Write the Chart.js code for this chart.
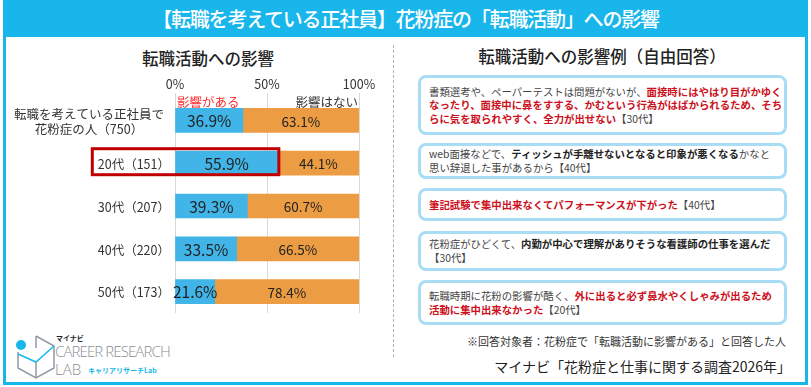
<!DOCTYPE html>
<html lang="ja">
<head>
<meta charset="utf-8">
<script src="https://cdn.jsdelivr.net/npm/chart.js@4/dist/chart.umd.min.js"></script>
<style>
  html,body{margin:0;padding:0;background:#fff;}
  body{width:811px;height:387px;position:relative;overflow:hidden;font-family:"Noto Sans CJK JP","Noto Sans",sans-serif;color:#333;}
  .frame{position:absolute;left:3px;top:0;width:805px;height:385px;box-sizing:border-box;border:3px solid #19b6ec;}
  .titlebar{position:absolute;left:3px;top:0;width:805px;height:37px;background:#19b6ec;color:#fff;font-size:20px;font-weight:500;text-align:center;line-height:37px;letter-spacing:-1.2px;}
  .sub{position:absolute;font-size:16.5px;font-weight:500;color:#222;text-align:center;white-space:nowrap;}
  .sep{position:absolute;left:393px;top:45px;height:312px;border-left:1px dashed #b0b0b0;}
  .box{position:absolute;left:418px;width:369px;box-sizing:border-box;border:3px solid #a9ddf6;border-radius:8px;background:#fff;display:flex;align-items:center;padding:0 0 0 8px;font-size:10.4px;line-height:13.6px;color:#444;white-space:nowrap;}
  .r{color:#cc1020;font-weight:700;}
  .b{color:#222;font-weight:700;}
  .note1{position:absolute;right:25px;top:333px;font-size:11px;color:#333;white-space:nowrap;}
  .note2{position:absolute;right:20px;top:356px;font-size:14px;color:#222;white-space:nowrap;}
  #wrap{position:absolute;left:0;top:40px;width:393px;height:280px;}
  .logo{position:absolute;left:14px;top:332px;width:170px;height:50px;}
</style>
</head>
<body>
<div class="frame"></div>
<div class="titlebar">【転職を考えている正社員】花粉症の「転職活動」への影響</div>
<div class="sub" style="left:0;width:416px;top:46px;">転職活動への影響</div>
<div class="sub" style="left:400px;width:404px;top:44px;">転職活動への影響例（自由回答）</div>
<div class="sep"></div>
<div id="wrap"><canvas id="c"></canvas></div>

<div class="box" style="top:75px;height:60px;"><div>書類選考や、ペーパーテストは問題がないが、<span class="r">面接時にはやはり目がかゆく</span><br><span class="r">なったり、面接中に鼻をすする、かむという行為がはばかられるため、そち</span><br><span class="r">らに気を取られやすく、全力が出せない</span>【30代】</div></div>
<div class="box" style="top:143px;height:36px;"><div>web面接などで、<span class="b">ティッシュが手離せないとなると印象が悪くなる</span>かなと<br>思い辞退した事があるから【40代】</div></div>
<div class="box" style="top:188px;height:33px;"><div><span class="r">筆記試験で集中出来なくてパフォーマンスが下がった</span>【40代】</div></div>
<div class="box" style="top:231px;height:40px;"><div>花粉症がひどくて、<span class="b">内勤が中心で理解がありそうな看護師の仕事を選んだ</span><br>【30代】</div></div>
<div class="box" style="top:280px;height:45px;"><div>転職時期に花粉の影響が酷く、<span class="r">外に出ると必ず鼻水やくしゃみが出るため</span><br><span class="r">活動に集中出来なかった</span>【20代】</div></div>

<div class="note1">※回答対象者：花粉症で「転職活動に影響がある」と回答した人</div>
<div class="note2">マイナビ「花粉症と仕事に関する調査2026年」</div>

<div class="logo">
  <svg width="44" height="50" style="position:absolute;left:0;top:0" viewBox="0 0 44 50">
    <polyline points="22,4 40,14 40,36 22,46 4,36 4,20" fill="none" stroke="#8e9aa6" stroke-width="1.5"/>
    <polyline points="4,22 22,30 40,14" fill="none" stroke="#19b6ec" stroke-width="1.5"/>
    <line x1="22" y1="30" x2="22" y2="46" stroke="#8e9aa6" stroke-width="1.5"/>
    <line x1="22" y1="4" x2="22" y2="16" stroke="#8e9aa6" stroke-width="1.5"/>
    <circle cx="7" cy="13" r="5" fill="#19b6ec"/>
  </svg>
  <div style="position:absolute;left:42px;top:1px;font-size:7px;font-weight:700;color:#222;">マイナビ</div>
  <div style="position:absolute;left:41px;top:9px;font-size:15px;color:#8a8f94;letter-spacing:-0.9px;font-family:'Open Sans','Noto Sans',sans-serif;font-weight:300;">CAREER RESEARCH</div>
  <div style="position:absolute;left:41px;top:27px;font-size:15px;color:#8a8f94;font-family:'Open Sans','Noto Sans',sans-serif;font-weight:300;">LAB</div>
  <div style="position:absolute;left:74px;top:33px;font-size:7px;font-weight:700;color:#19b6ec;">キャリアリサーチLab</div>
</div>

<script>
const categories = [["転職を考えている正社員で","花粉症の人（750）"],"20代（151）","30代（207）","40代（220）","50代（173）"];
const seriesNames = ["影響がある","影響はない"];
const affected = [36.9, 55.9, 39.3, 33.5, 21.6];
const notAffected = [63.1, 44.1, 60.7, 66.5, 78.4];
const xTicks = [0, 50, 100];
const highlightIndex = 1;

const FONT = '"Noto Sans CJK JP","Noto Sans",sans-serif';

const customPlugin = {
  id: 'custom',
  afterDatasetsDraw(chart) {
    const ctx = chart.ctx;
    const xs = chart.scales.x, ys = chart.scales.y;
    ctx.save();
    // value labels
    chart.data.datasets.forEach((ds, di) => {
      const meta = chart.getDatasetMeta(di);
      ctx.font = (di === 0 ? '15.5px ' : '13.5px ') + FONT;
      ctx.fillStyle = '#222';
      ctx.textAlign = 'center';
      ctx.textBaseline = 'middle';
      meta.data.forEach((bar, i) => {
        const cx = (bar.x + bar.base) / 2;
        ctx.fillText(ds.data[i].toFixed(1) + '%', cx, bar.y + 1);
      });
    });
    // series names
    const first = chart.getDatasetMeta(0).data[0];
    const ly = first.y - first.height / 2 - 6;
    ctx.font = '12.5px ' + FONT;
    ctx.textBaseline = 'middle';
    ctx.fillStyle = '#ff2a2a';
    ctx.textAlign = 'left';
    ctx.fillText(seriesNames[0], xs.getPixelForValue(0) + 2, ly);
    ctx.fillStyle = '#333';
    ctx.textAlign = 'right';
    ctx.fillText(seriesNames[1], xs.getPixelForValue(100) - 1, ly);
    // category labels
    ctx.font = '12.5px ' + FONT;
    ctx.fillStyle = '#333';
    ctx.textAlign = 'center';
    const right = 170;
    categories.forEach((lab, i) => {
      const lines = Array.isArray(lab) ? lab : [lab];
      const cy = ys.getPixelForValue(i);
      const w = Math.max(...lines.map(l => ctx.measureText(l).width));
      const r = lines.length > 1 ? right - 6 : right;
      lines.forEach((l, j) => ctx.fillText(l, r - w / 2, cy + (j - (lines.length - 1) / 2) * 15 + 1));
      if (i === highlightIndex) {
        const left = r - w - 7;
        const rx = xs.getPixelForValue(affected[i]) + 1;
        ctx.strokeStyle = '#c00000';
        ctx.lineWidth = 3;
        ctx.strokeRect(left + 1.5, cy - 14.5, rx - left - 1.5, 26);
      }
    });
    ctx.restore();
  }
};

new Chart(document.getElementById('c'), {
  type: 'bar',
  data: {
    labels: categories,
    datasets: [
      { label: seriesNames[0], data: affected, backgroundColor: '#41b5e8', barThickness: 24 },
      { label: seriesNames[1], data: notAffected, backgroundColor: '#ec9c42', barThickness: 24 }
    ]
  },
  options: {
    indexAxis: 'y',
    responsive: true,
    maintainAspectRatio: false,
    animation: false,
    layout: { padding: { left: 175, right: 34, top: 36, bottom: 7 } },
    plugins: { legend: { display: false }, tooltip: { enabled: false } },
    scales: {
      x: {
        position: 'top', stacked: true, min: 0, max: 100,
        afterBuildTicks(scale) { scale.ticks = xTicks.map(v => ({ value: v })); },
        ticks: { callback: v => v + '%', font: { family: FONT, size: 12.5 }, color: '#333', padding: 1, maxRotation: 0 },
        grid: { color: '#d9d9d9', lineWidth: 1, tickLength: 6, tickColor: '#d9d9d9' },
        border: { display: false }
      },
      y: {
        stacked: true,
        ticks: { display: false },
        grid: { display: false, drawTicks: false },
        border: { display: false }
      }
    }
  },
  plugins: [customPlugin]
});
</script>
</body>
</html>
